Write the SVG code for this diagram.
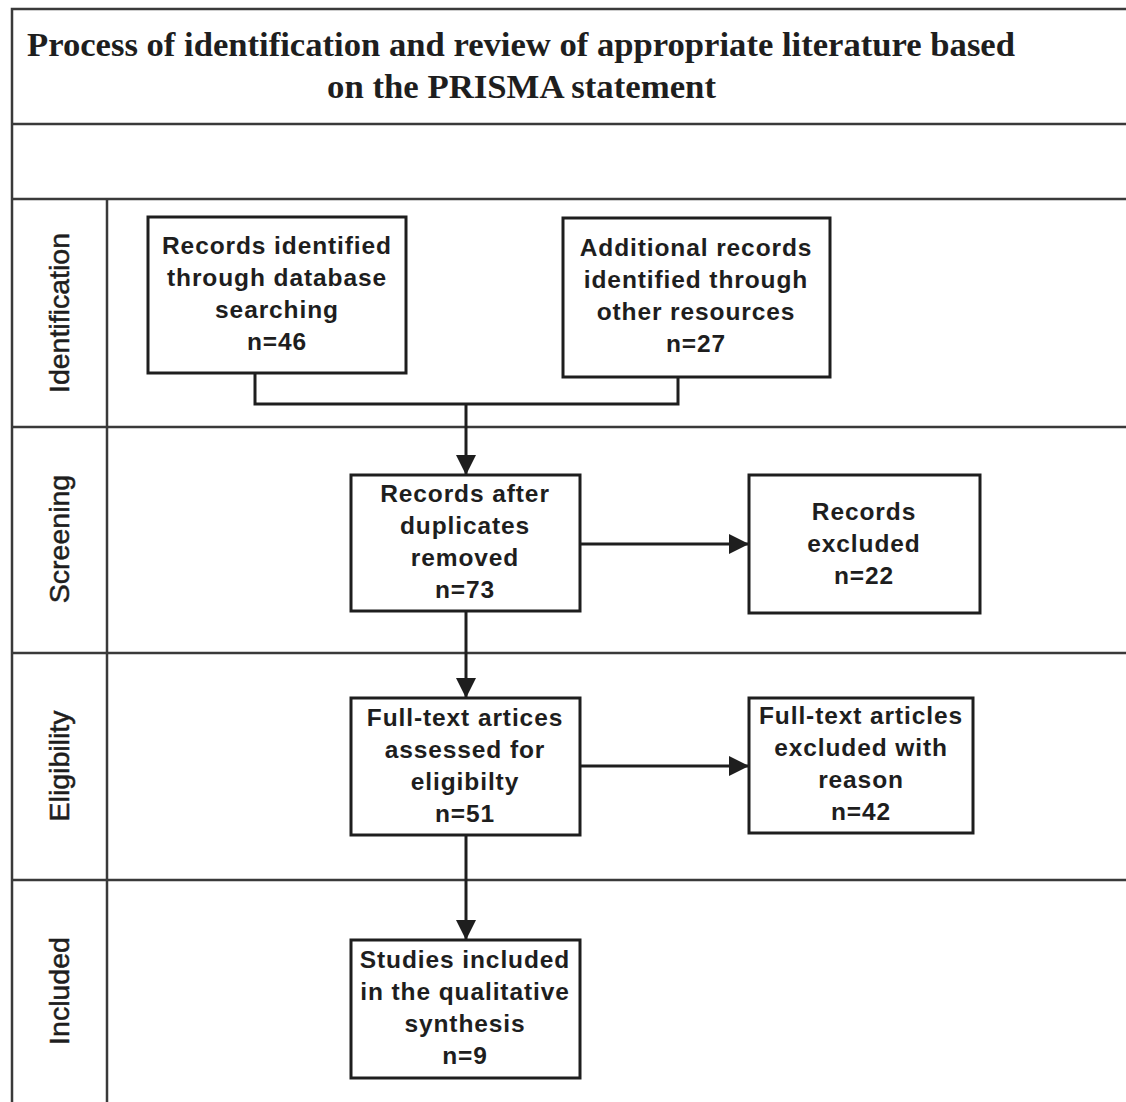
<svg xmlns="http://www.w3.org/2000/svg" width="1126" height="1102" viewBox="0 0 1126 1102">
<style>
.frame{fill:none;stroke:#3a3a3a;stroke-width:2.5}
.box{fill:#fff;stroke:#1e1e1e;stroke-width:3}
.t{font-family:"Liberation Sans",Arial,sans-serif;font-weight:bold;font-size:24.5px;fill:#1e1e1e;text-anchor:middle;letter-spacing:0.9px}
.lane{font-family:"Liberation Sans",Arial,sans-serif;font-size:28.5px;fill:#1e1e1e;stroke:#1e1e1e;stroke-width:0.5;text-anchor:middle}
.title{font-family:"Liberation Serif","Times New Roman",serif;font-weight:bold;font-size:34px;fill:#1e1e1e}
.conn{fill:none;stroke:#1e1e1e;stroke-width:3}
</style>
<defs>
<marker id="ah2" viewBox="0 0 20 20" refX="20" refY="10" markerWidth="20" markerHeight="20" markerUnits="userSpaceOnUse" orient="auto">
<path d="M0,0 L20,10 L0,20 z" fill="#1e1e1e"/>
</marker>
</defs>
<rect width="1126" height="1102" fill="#fff"/>
<g id="frame">
<path class="frame" d="M12,1102 V9 H1126"/>
<line class="frame" x1="12" y1="124" x2="1126" y2="124" stroke-width="3"/>
<line class="frame" x1="12" y1="199" x2="1126" y2="199"/>
<line class="frame" x1="107" y1="199" x2="107" y2="1102"/>
<line class="frame" x1="12" y1="427" x2="1126" y2="427" stroke-width="3"/>
<line class="frame" x1="12" y1="653" x2="1126" y2="653"/>
<line class="frame" x1="12" y1="880" x2="1126" y2="880"/>
</g>
<g id="title">
<text class="title" x="27" y="56" textLength="988" lengthAdjust="spacingAndGlyphs">Process of identification and review of appropriate literature based</text>
<text class="title" x="327" y="98" textLength="389" lengthAdjust="spacingAndGlyphs">on the PRISMA statement</text>
</g>
<g id="lanes">
<text class="lane" transform="translate(69,313) rotate(-90)">Identification</text>
<text class="lane" transform="translate(69,539) rotate(-90)">Screening</text>
<text class="lane" transform="translate(69,766) rotate(-90)">Eligibility</text>
<text class="lane" transform="translate(69,991) rotate(-90)">Included</text>
</g>
<g id="connectors">
<path class="conn" d="M255,373 V404 H678 V377"/>
<path class="conn" d="M466,404 V475" marker-end="url(#ah2)"/>
<path class="conn" d="M580,544 H749" marker-end="url(#ah2)"/>
<path class="conn" d="M466,611 V698" marker-end="url(#ah2)"/>
<path class="conn" d="M580,766 H749" marker-end="url(#ah2)"/>
<path class="conn" d="M466,835 V940" marker-end="url(#ah2)"/>
</g>
<g id="n1">
<rect class="box" x="148" y="217" width="258" height="156"/>
<text class="t" x="277" y="254">Records identified</text>
<text class="t" x="277" y="286">through database</text>
<text class="t" x="277" y="318">searching</text>
<text class="t" x="277" y="350">n=46</text>
</g>
<g id="n2">
<rect class="box" x="563" y="218" width="267" height="159"/>
<text class="t" x="696" y="256">Additional records</text>
<text class="t" x="696" y="288">identified through</text>
<text class="t" x="696" y="320">other resources</text>
<text class="t" x="696" y="352">n=27</text>
</g>
<g id="n3">
<rect class="box" x="351" y="475" width="229" height="136"/>
<text class="t" x="465" y="502">Records after</text>
<text class="t" x="465" y="534">duplicates</text>
<text class="t" x="465" y="566">removed</text>
<text class="t" x="465" y="598">n=73</text>
</g>
<g id="n4">
<rect class="box" x="749" y="475" width="231" height="138"/>
<text class="t" x="864" y="520">Records</text>
<text class="t" x="864" y="552">excluded</text>
<text class="t" x="864" y="584">n=22</text>
</g>
<g id="n5">
<rect class="box" x="351" y="698" width="229" height="137"/>
<text class="t" x="465" y="726">Full-text artices</text>
<text class="t" x="465" y="758">assessed for</text>
<text class="t" x="465" y="790">eligibilty</text>
<text class="t" x="465" y="822">n=51</text>
</g>
<g id="n6">
<rect class="box" x="749" y="698" width="224" height="135"/>
<text class="t" x="861" y="724">Full-text articles</text>
<text class="t" x="861" y="756">excluded with</text>
<text class="t" x="861" y="788">reason</text>
<text class="t" x="861" y="820">n=42</text>
</g>
<g id="n7">
<rect class="box" x="351" y="940" width="229" height="138"/>
<text class="t" x="465" y="968">Studies included</text>
<text class="t" x="465" y="1000">in the qualitative</text>
<text class="t" x="465" y="1032">synthesis</text>
<text class="t" x="465" y="1064">n=9</text>
</g>
</svg>
